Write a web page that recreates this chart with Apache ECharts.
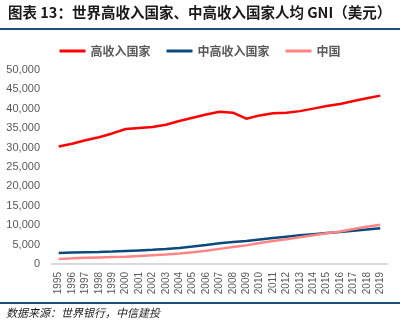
<!DOCTYPE html>
<html><head><meta charset="utf-8">
<script src="https://cdn.jsdelivr.net/npm/echarts@6/dist/echarts.min.js"></script>
<style>html,body{margin:0;padding:0;background:#fff}#c{width:400px;height:332px}</style>
</head><body><div id="c"></div>
<script>
var years = ['1995','1996','1997','1998','1999','2000','2001','2002','2003','2004','2005','2006','2007','2008','2009','2010','2011','2012','2013','2014','2015','2016','2017','2018','2019'];
var highIncome = [30300,31000,31900,32650,33650,34800,35050,35300,35900,36850,37700,38550,39250,39000,37450,38300,38850,39000,39400,40050,40700,41250,42000,42700,43400];
var upperMiddle = [2850,2950,3050,3100,3200,3350,3500,3650,3850,4150,4500,4900,5350,5700,5900,6300,6700,7050,7400,7700,8000,8250,8550,8900,9200];
var china = [1300,1450,1580,1700,1800,1900,2050,2250,2450,2700,3000,3400,3900,4400,4800,5400,5950,6400,6900,7400,7900,8400,9000,9600,10100];
var seriesNames = ['高收入国家','中高收入国家','中国'];
var colors = ['#ff0000','#0b4a7d','#ff8585'];

var chart = echarts.init(document.getElementById('c'));
chart.setOption({
  animation:false,
  color: colors,
  graphic:[
    {type:'text', left:8, top:5, style:{text:'图表 13：世界高收入国家、中高收入国家人均 GNI（美元）', font:'bold 14.5px "Noto Sans CJK SC"', fill:'#1a1a1a'}},
    {type:'rect', shape:{x:0,y:28,width:400,height:2}, style:{fill:'#1f4e79'}},
    {type:'rect', shape:{x:0,y:302,width:400,height:2}, style:{fill:'#1f4e79'}},
    {type:'text', left:6, top:307, style:{text:'数据来源：世界银行，中信建投', font:'italic 11px "Noto Sans CJK SC"', fill:'#1a1a1a'}}
  ],
  legend:{
    top:40, left:'center', itemWidth:26, itemHeight:3, itemGap:16,
    icon:'rect',
    textStyle:{fontSize:12, color:'#595959', fontWeight:'bold', fontFamily:'"Noto Sans CJK SC"'},
    data: seriesNames
  },
  grid:{left:52, right:13, top:70, bottom:68},
  xAxis:{
    type:'category', data:years, boundaryGap:true,
    axisLine:{lineStyle:{color:'#d9d9d9', width:2}},
    axisTick:{show:false},
    axisLabel:{rotate:90, fontSize:10, color:'#595959', interval:0, fontFamily:'Arial'}
  },
  yAxis:{
    type:'value', min:0, max:50000, interval:5000,
    splitLine:{show:false}, axisLine:{show:false}, axisTick:{show:false},
    axisLabel:{fontSize:11, color:'#595959', fontFamily:'Arial', margin:12,
      formatter:function(v){return v.toLocaleString('en-US');}}
  },
  series:[
    {name:seriesNames[0], type:'line', data:highIncome, symbol:'none', lineStyle:{width:2.5}},
    {name:seriesNames[1], type:'line', data:upperMiddle, symbol:'none', lineStyle:{width:2.5}},
    {name:seriesNames[2], type:'line', data:china, symbol:'none', lineStyle:{width:2.5}}
  ]
});
</script></body></html>
